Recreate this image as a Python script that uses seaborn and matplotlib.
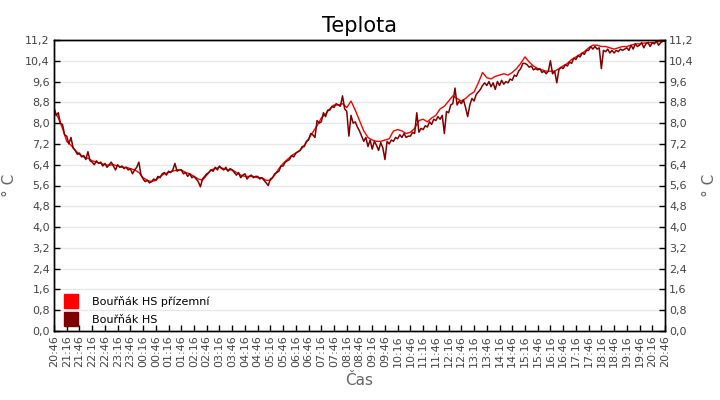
import numpy as np
import pandas as pd
import seaborn as sns
import matplotlib.pyplot as plt
from matplotlib.lines import Line2D
from matplotlib.ticker import FuncFormatter

sns.set_theme(style="white")
plt.rcParams['font.family'] = ['DejaVu Sans']

# Bouřňák HS (5 min steps from 20:46)
hs_values = [
    8.6, 8.3, 8.4, 8.0, 7.95, 7.55, 7.5, 7.2, 7.45, 7.05, 6.95, 6.8,
    6.85, 6.7, 6.75, 6.6, 6.9, 6.55, 6.5, 6.4, 6.55, 6.45, 6.5, 6.35,
    6.45, 6.3, 6.4, 6.5, 6.35, 6.2, 6.4, 6.3, 6.35, 6.25, 6.3, 6.2,
    6.25, 6.05, 6.2, 6.3, 6.5, 6.0, 5.85, 5.75, 5.8, 5.7, 5.75, 5.85,
    5.8, 5.95, 5.9, 6.05, 6.1, 6.0, 6.15, 6.1, 6.2, 6.45, 6.15, 6.2,
    6.2, 6.05, 6.1, 5.95, 6.05, 5.9, 5.95, 5.85, 5.75, 5.55, 5.85, 5.95,
    6.05, 6.1, 6.2, 6.15, 6.3, 6.2, 6.35, 6.25, 6.2, 6.3, 6.15, 6.25,
    6.2, 6.1, 6.0, 6.1, 5.9, 6.0, 6.05, 5.85, 5.95, 6.0, 5.9, 5.95,
    5.95, 5.85, 5.9, 5.8, 5.7, 5.6, 5.85, 5.9, 6.05, 6.1, 6.15, 6.35,
    6.35, 6.5, 6.55, 6.6, 6.75, 6.7, 6.85, 6.9, 6.95, 7.1, 7.1, 7.3,
    7.35, 7.6, 7.55, 7.45, 8.1, 8.0, 8.05, 8.4, 8.25, 8.5, 8.5, 8.65,
    8.6, 8.75, 8.7, 8.65, 9.05, 8.55, 8.45, 7.5, 8.3, 8.0, 8.05, 7.85,
    7.7, 7.5, 7.3, 7.45, 7.1, 7.35, 7.0, 7.3, 7.15, 6.95, 7.25, 7.05,
    6.6, 7.3, 7.2, 7.35, 7.3, 7.45, 7.4, 7.55, 7.45, 7.6, 7.45, 7.5,
    7.5, 7.65, 7.6, 8.4, 7.65, 7.8, 7.75, 7.9, 7.85, 8.05, 7.95, 8.15,
    8.1, 8.25, 8.15, 8.3, 7.6, 8.45, 8.4, 8.7, 8.75, 9.35, 8.7, 8.85,
    8.75, 8.9, 8.6, 8.25, 8.7, 8.95, 8.85, 9.1, 9.2, 9.3, 9.45, 9.55,
    9.45, 9.6, 9.4, 9.55, 9.3, 9.6, 9.45, 9.65, 9.5, 9.6, 9.55, 9.7,
    9.65, 9.85, 9.8, 10.0, 10.1, 10.3, 10.3, 10.25, 10.15, 10.2, 10.05, 10.1,
    10.05, 10.1, 9.95, 10.0, 9.9, 10.0, 10.4, 9.9, 10.0, 9.55, 10.05, 10.15,
    10.1, 10.25, 10.2, 10.35, 10.3, 10.5, 10.45, 10.6, 10.55, 10.7, 10.65, 10.8,
    10.8, 10.95, 10.85, 10.95, 10.85, 10.9, 10.1, 10.8, 10.75, 10.85, 10.7, 10.8,
    10.7, 10.8, 10.75, 10.85, 10.8, 10.85, 10.9, 10.8, 11.0, 10.85, 11.05, 10.95,
    11.0, 11.1, 10.9, 11.05, 11.1, 10.95, 11.1, 11.05, 11.15, 11.0, 11.1, 11.15,
    11.15,
]

# Bouřňák HS přízemní (10 min steps from 20:46)
prizemni_values = [
    8.5, 8.2, 7.8, 7.3, 7.15, 6.95,
    6.8, 6.7, 6.65, 6.55, 6.5, 6.45,
    6.4, 6.38, 6.4, 6.35, 6.3, 6.3,
    6.25, 6.2, 6.1, 5.9, 5.8, 5.75,
    5.8, 5.95, 6.05, 6.1, 6.15, 6.2,
    6.2, 6.1, 6.05, 5.95, 5.85, 5.8,
    6.0, 6.2, 6.25, 6.3, 6.25, 6.2,
    6.2, 6.1, 6.0, 5.95, 5.95, 5.95,
    5.9, 5.9, 5.8, 5.8, 6.0, 6.25,
    6.45, 6.6, 6.75, 6.85, 6.95, 7.15,
    7.4, 7.65, 7.9, 8.2, 8.35, 8.55,
    8.7, 8.7, 8.75, 8.6, 8.85, 8.5,
    8.1, 7.7, 7.45, 7.35, 7.3, 7.3,
    7.35, 7.4, 7.7, 7.75, 7.7, 7.6,
    7.65, 7.8, 8.1, 8.15, 8.05, 8.2,
    8.3, 8.55, 8.65, 8.85, 9.05, 8.95,
    8.85, 8.95, 9.1, 9.2, 9.55, 9.95,
    9.75, 9.7, 9.8, 9.85, 9.9, 9.85,
    9.95, 10.1, 10.3, 10.55, 10.35, 10.2,
    10.1, 10.05, 10.0, 10.0, 10.0, 10.1,
    10.2, 10.3, 10.45, 10.55, 10.65, 10.75,
    10.9, 11.0, 11.0, 10.95, 10.95, 10.9,
    10.85, 10.9, 10.95, 10.95, 11.0, 11.05,
    11.05, 11.08, 11.1, 11.1, 11.12, 11.15,
    11.17,
]

tick_labels = ["20:46", "21:16", "21:46", "22:16", "22:46", "23:16", "23:46",
               "00:16", "00:46", "01:16", "01:46", "02:16", "02:46", "03:16",
               "03:46", "04:16", "04:46", "05:16", "05:46", "06:16", "06:46",
               "07:16", "07:46", "08:16", "08:46", "09:16", "09:46", "10:16",
               "10:46", "11:16", "11:46", "12:16", "12:46", "13:16", "13:46",
               "14:16", "14:46", "15:16", "15:46", "16:16", "16:46", "17:16",
               "17:46", "18:16", "18:46", "19:16", "19:46", "20:16", "20:46"]

y_ticks = [0.0, 0.8, 1.6, 2.4, 3.2, 4.0, 4.8, 5.6, 6.4, 7.2, 8.0, 8.8, 9.6, 10.4, 11.2]

df_hs = pd.DataFrame({"min": np.arange(len(hs_values)) * 5, "t": hs_values})
df_pr = pd.DataFrame({"min": np.arange(len(prizemni_values)) * 10, "t": prizemni_values})

fig = plt.figure(figsize=(7.2, 4.0), dpi=100)
ax = fig.add_axes([0.075, 0.1725, 0.8486, 0.7275])

sns.lineplot(data=df_pr, x="min", y="t", ax=ax, color="#ff0000", linewidth=1.0)
sns.lineplot(data=df_hs, x="min", y="t", ax=ax, color="#800000", linewidth=1.1)

fmt = FuncFormatter(lambda v, p: f"{v:.1f}".replace(".", ","))
ax.set_xlim(0, 1440)
ax.set_ylim(0, 11.2)
ax.set_yticks(y_ticks)
ax.yaxis.set_major_formatter(fmt)
ax.set_xticks(np.arange(len(tick_labels)) * 30)
ax.set_xticklabels(tick_labels, rotation=90)
ax.grid(axis="y", color="#e8e8e8", linewidth=1)
ax.set_axisbelow(True)
ax.tick_params(axis="both", direction="in", length=4, width=1, color="black",
               labelsize=8, labelcolor="#444444", pad=3, bottom=True, left=True)

ax2 = ax.twinx()
ax2.set_ylim(0, 11.2)
ax2.set_yticks(y_ticks)
ax2.yaxis.set_major_formatter(fmt)
ax2.tick_params(axis="y", direction="in", length=4, width=1, color="black",
                labelsize=8, labelcolor="#444444", pad=3)
ax2.set_ylabel("° C", color="#666666", fontsize=11, labelpad=6)

for a in (ax, ax2):
    for s in a.spines.values():
        s.set_color("black")
        s.set_linewidth(1)

ax.set_xlabel("Čas", color="#666666", fontsize=11, labelpad=4)
ax.set_ylabel("° C", color="#666666", fontsize=11, labelpad=6)
ax.set_title("Teplota", fontsize=15, color="black", pad=6)

handles = [Line2D([], [], marker="s", linestyle="none", markersize=9.5, color="#ff0000"),
           Line2D([], [], marker="s", linestyle="none", markersize=9.5, color="#800000")]
ax.legend(handles, ["Bouřňák HS přízemní", "Bouřňák HS"], loc="lower left",
          frameon=False, fontsize=8, handletextpad=0.9, labelspacing=0.75,
          borderaxespad=0.15, bbox_to_anchor=(0.0, 0.0), labelcolor="black")

fig.savefig("out.png", dpi=100)
